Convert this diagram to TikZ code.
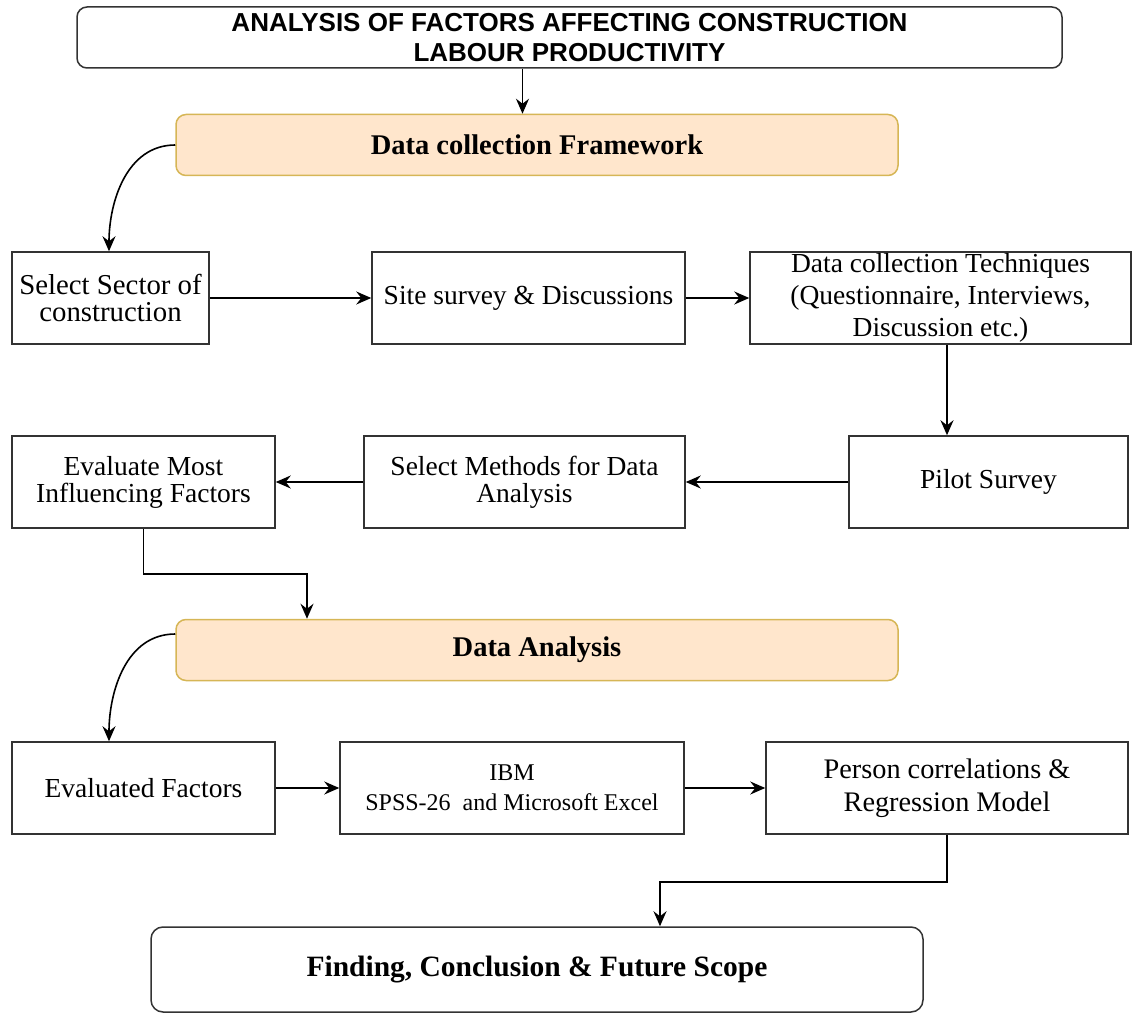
\documentclass[tikz,border=0pt]{standalone}
\usepackage{fontspec}
\setmainfont{Liberation Serif}
\newfontfamily\titlefont{Liberation Sans}
\usetikzlibrary{arrows.meta}
\definecolor{boxline}{HTML}{333333}
\definecolor{hdrfill}{HTML}{FFE6CC}
\definecolor{hdrline}{HTML}{D6B656}
\begin{document}
\begin{tikzpicture}[x=1pt,y=1pt,line width=1.5pt,
  every node/.style={font=\fontsize{27.5}{32}\selectfont,align=center,inner sep=0pt},
  stepbox/.style={draw=boxline,minimum height=92pt},
  tight/.style={font=\fontsize{27.5}{27}\selectfont},
  header/.style={draw=hdrline,fill=hdrfill,rounded corners=10pt,minimum width=722pt,minimum height=61pt,font=\bfseries\fontsize{28.5}{32}\selectfont},
  flow/.style={-{Stealth[length=15pt,width=13pt,inset=5pt]},line width=1.6pt}]
\useasboundingbox (0,0) rectangle (1133,-1014);
% title and first stage
\node[draw=boxline,rounded corners=10pt,minimum width=985pt,minimum height=61pt,font=\titlefont\bfseries\fontsize{26}{30}\selectfont] (title) at (569.5,-37.5) {ANALYSIS OF FACTORS AFFECTING CONSTRUCTION\\LABOUR PRODUCTIVITY};
\node[header] (dcf) at (537,-145) {Data collection Framework};
\node[stepbox,minimum width=197pt,font=\fontsize{28.8}{27}\selectfont] (sector) at (110.5,-298) {Select Sector of\\construction};
\node[stepbox,minimum width=313pt] (site) at (528.5,-298) {Site survey \& Discussions};
\node[stepbox,minimum width=381pt] (tech) at (940.5,-298) {Data collection Techniques\\(Questionnaire, Interviews,\\Discussion etc.)};
\node[stepbox,minimum width=279pt] (pilot) at (988.5,-482) {Pilot Survey};
\node[stepbox,tight,minimum width=321pt] (methods) at (524.5,-482) {Select Methods for Data\\Analysis};
\node[stepbox,tight,minimum width=263pt] (evalmost) at (143.5,-482) {Evaluate Most\\Influencing Factors};
% second stage
\node[header] (da) at (537,-650) {Data Analysis};
\node[stepbox,minimum width=263pt] (evald) at (143.5,-788) {Evaluated Factors};
\node[stepbox,minimum width=344pt,font=\fontsize{24}{30}\selectfont] (ibm) at (512,-788) {IBM\\SPSS-26\ \ and Microsoft Excel};
\node[stepbox,minimum width=362pt,font=\fontsize{28.3}{33}\selectfont] (person) at (947,-788) {Person correlations \&\\Regression Model};
\node[draw=boxline,rounded corners=12pt,minimum width=772pt,minimum height=85pt,font=\bfseries\fontsize{29.5}{32}\selectfont] (final) at (537,-969.5) {Finding, Conclusion \& Future Scope};
% connectors
\draw[flow] ([xshift=-47pt]title.south) -- ([xshift=-47pt]title.south |- dcf.north);
\draw[flow] (dcf.west) to[out=180,in=90] ([xshift=-1.5pt]sector.north);
\draw[flow] (sector) -- (site);
\draw[flow] (site) -- (tech);
\draw[flow] ([xshift=6.5pt]tech.south) -- ([xshift=6.5pt]tech.south |- pilot.north);
\draw[flow] (pilot) -- (methods);
\draw[flow] (methods) -- (evalmost);
\draw[flow] (evalmost.south) -- ++(0,-45) -| ([xshift=-230pt]da.north);
\draw[flow] ([yshift=16pt]da.west) to[out=180,in=90] ([xshift=-34.5pt]evald.north);
\draw[flow] (evald) -- (ibm);
\draw[flow] (ibm) -- (person);
\draw[flow] (person.south) -- ++(0,-47) -| ([xshift=123pt]final.north);
\end{tikzpicture}
\end{document}
